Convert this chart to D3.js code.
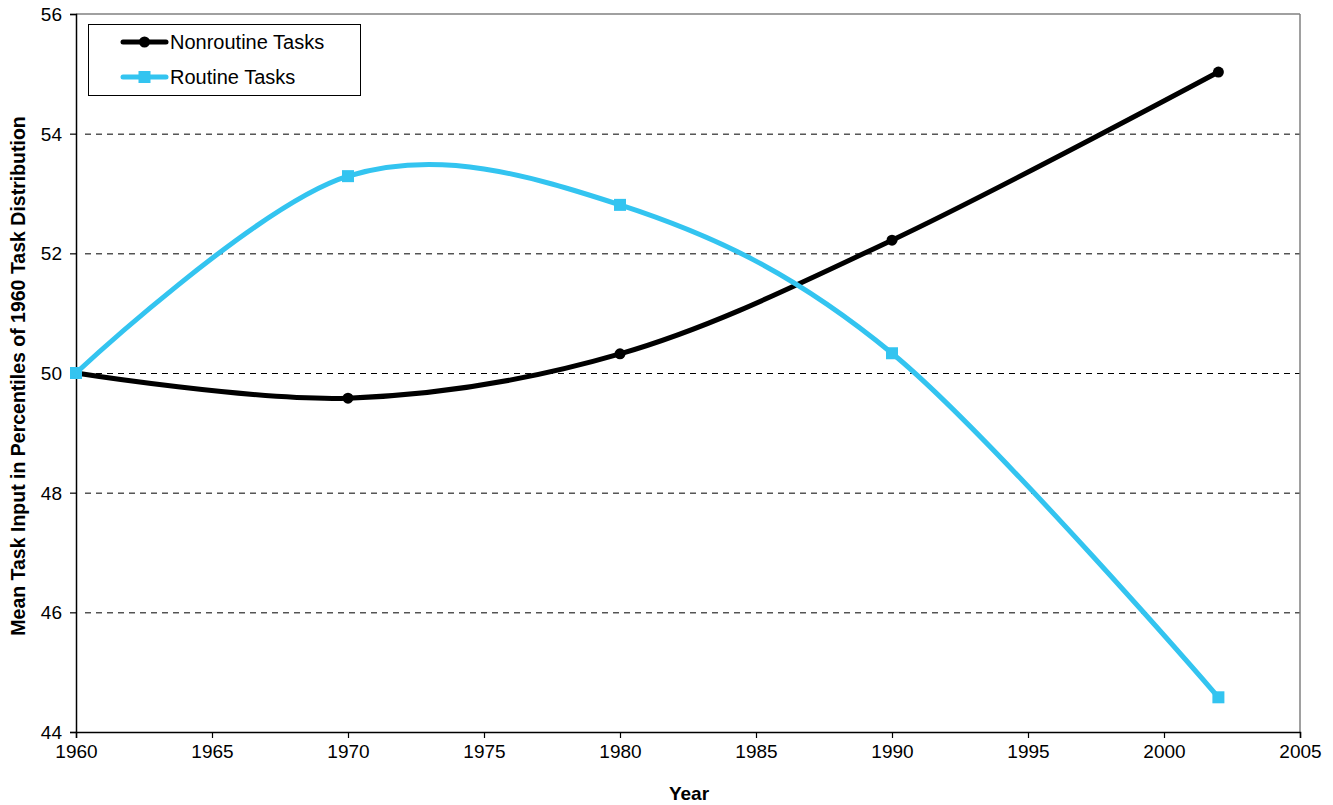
<!DOCTYPE html>
<html>
<head>
<meta charset="utf-8">
<script src="https://cdn.jsdelivr.net/npm/d3@7"></script>
<style>
  body { margin: 0; background: #fff; }
  text { font-family: "Liberation Sans", Arial, sans-serif; }
</style>
</head>
<body>
<svg id="chart" width="1333" height="805"></svg>
<script>
// data
var years = [1960, 1970, 1980, 1990, 2002]
var nonroutine = [50.0, 49.58, 50.32, 52.22, 55.03]
var routine = [50.0, 53.29, 52.81, 50.33, 44.58]
var xTicks = [1960, 1965, 1970, 1975, 1980, 1985, 1990, 1995, 2000, 2005]
var yTicks = [44, 46, 48, 50, 52, 54, 56]
var seriesNames = ['Nonroutine Tasks', 'Routine Tasks']

var plotLeft = 76, plotRight = 1300, plotTop = 14, plotBottom = 732

var svg = d3.select('#chart')

var xScale = d3.scaleLinear().domain([1960, 2005]).range([plotLeft, plotRight])
var yScale = d3.scaleLinear().domain([44, 56]).range([plotBottom, plotTop])

// dashed gridlines
svg.append('g').selectAll('line')
    .data(yTicks.filter(function (t) { return t > 44 && t < 56 }))
    .enter().append('line')
    .attr('x1', plotLeft + 9).attr('x2', plotRight)
    .attr('y1', function (d) { return yScale(d) + 0.5 })
    .attr('y2', function (d) { return yScale(d) + 0.5 })
    .attr('stroke', '#000').attr('stroke-width', 1)
    .attr('stroke-dasharray', '6,5')

// top and right border
svg.append('line').attr('x1', plotLeft).attr('x2', plotRight).attr('y1', plotTop).attr('y2', plotTop)
    .attr('stroke', '#808080').attr('stroke-width', 1.5)
svg.append('line').attr('x1', plotRight).attr('x2', plotRight).attr('y1', plotTop).attr('y2', plotBottom)
    .attr('stroke', '#808080').attr('stroke-width', 1.5)

// axes
var xAxis = d3.axisBottom(xScale).tickValues(xTicks).tickFormat(d3.format('d')).tickSize(6).tickPadding(7)
var xG = svg.append('g').attr('transform', `translate(0, ${plotBottom})`).call(xAxis)
var yAxis = d3.axisLeft(yScale).tickValues(yTicks).tickSize(6).tickPadding(8)
var yG = svg.append('g').attr('transform', `translate(${plotLeft}, 0)`).call(yAxis)

;[xG, yG].forEach(function (g) {
    g.select('.domain').attr('stroke', '#000').attr('stroke-width', 1.5)
    g.selectAll('.tick line').attr('stroke', '#000').attr('stroke-width', 1.2)
    g.selectAll('.tick text').attr('fill', '#000').style('font-size', '19px')
        .style('font-family', '"Liberation Sans", Arial, sans-serif')
})
yG.selectAll('.tick text').attr('dy', '0.35em')

// axis titles
svg.append('text').attr('x', 689).attr('y', 800)
    .attr('text-anchor', 'middle').style('font-size', '19px').style('font-weight', 'bold').text('Year')
svg.append('text').attr('transform', `translate(25, 376) rotate(-90)`)
    .attr('text-anchor', 'middle').style('font-size', '19.5px').style('font-weight', 'bold')
    .text('Mean Task Input in Percentiles of 1960 Task Distribution')

// lines
var line = d3.line()
    .x(function (d) { return xScale(d[0]) })
    .y(function (d) { return yScale(d[1]) })
    .curve(d3.curveCardinal.tension(0))

var nonPts = years.map(function (y, i) { return [y, nonroutine[i]] })
var rouPts = years.map(function (y, i) { return [y, routine[i]] })

svg.append('path').attr('d', line(nonPts)).attr('fill', 'none')
    .attr('stroke', '#000').attr('stroke-width', 5)
svg.append('path').attr('d', line(rouPts)).attr('fill', 'none')
    .attr('stroke', '#33c4f0').attr('stroke-width', 5)

svg.append('g').selectAll('circle').data(nonPts).enter().append('circle')
    .attr('cx', function (d) { return xScale(d[0]) })
    .attr('cy', function (d) { return yScale(d[1]) })
    .attr('r', 5.5).attr('fill', '#000')

svg.append('g').selectAll('rect').data(rouPts).enter().append('rect')
    .attr('x', function (d) { return xScale(d[0]) - 6 })
    .attr('y', function (d) { return yScale(d[1]) - 6 })
    .attr('width', 12).attr('height', 12).attr('fill', '#33c4f0')

// legend
var legend = svg.append('g')
legend.append('rect').attr('x', 88.5).attr('y', 24.5).attr('width', 272).attr('height', 71)
    .attr('fill', '#fff').attr('stroke', '#000').attr('stroke-width', 1)
var legColors = ['#000', '#33c4f0']
seriesNames.forEach(function (name, i) {
    var ly = 42 + i * 35
    legend.append('line').attr('x1', 123).attr('x2', 166).attr('y1', ly).attr('y2', ly)
        .attr('stroke', legColors[i]).attr('stroke-width', 5).attr('stroke-linecap', 'round')
    if (i == 0) {
        legend.append('circle').attr('cx', 144.5).attr('cy', ly).attr('r', 5.5).attr('fill', legColors[i])
    } else {
        legend.append('rect').attr('x', 138.5).attr('y', ly - 6).attr('width', 12).attr('height', 12).attr('fill', legColors[i])
    }
    legend.append('text').attr('x', 170).attr('y', ly + 7).style('font-size', '20px').attr('fill', '#000').text(name)
})
</script>
</body>
</html>
